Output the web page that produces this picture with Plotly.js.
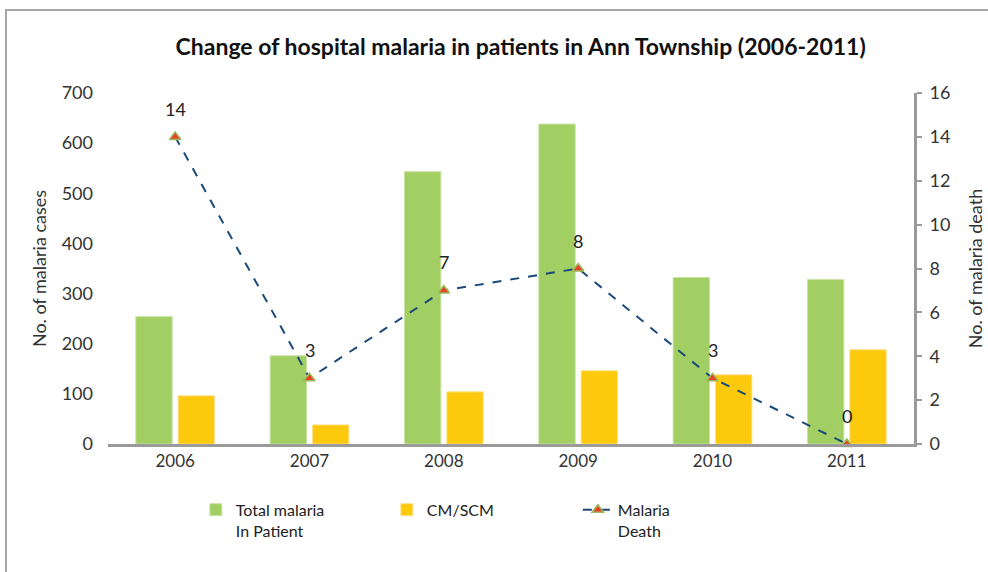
<!DOCTYPE html>
<html>
<head>
<meta charset="utf-8">
<script src="https://cdn.plot.ly/plotly-3.0.1.min.js"></script>
<style>
  html, body { margin: 0; padding: 0; background: #fff; overflow: hidden; }
  #frame { position: absolute; left: 5px; top: 9px; width: 1100px; height: 700px; border: 2px solid #a6a6a6; box-sizing: border-box; }
  #chart { position: absolute; left: 0; top: 0; width: 988px; height: 572px; }
</style>
</head>
<body>
<div id="frame"></div>
<div id="chart"></div>
<script>
const years = ["2006", "2007", "2008", "2009", "2010", "2011"];
const totalInPatient = [254, 176, 543, 638, 332, 328];
const cmScm = [96, 38, 104, 146, 138, 188];
const deaths = [14, 3, 7, 8, 3, 0];
const deathLabels = ["14", "3", "7", "8", "3", "0"];

const FONT = "Lato, 'Open Sans', sans-serif";

const traces = [
  {
    type: "bar", name: "Total malaria<br>In Patient", x: years, y: totalInPatient,
    marker: { color: "#a2cf63", line: { color: "#c9e3a5", width: 1 } }, yaxis: "y"
  },
  {
    type: "bar", name: "CM/SCM", x: years, y: cmScm,
    marker: { color: "#fdc90c", line: { color: "#fde08a", width: 1 } }, yaxis: "y"
  },
  {
    type: "scatter", mode: "lines+markers", name: "Malaria<br>Death", x: years, y: deaths,
    yaxis: "y2",
    line: { color: "#1a4a7a", width: 2, dash: "dash" },
    marker: { symbol: "triangle-up", size: 10, color: "#e8412c", line: { color: "#9bbb59", width: 1.5 } },
    cliponaxis: false
  }
];

const annotations = years.map((yr, i) => ({
  x: i, y: deaths[i], xref: "x", yref: "y2", text: deathLabels[i],
  showarrow: false, yshift: 28, font: { family: FONT, size: 18, color: "#222" }
}));

const layout = {
  width: 988, height: 572,
  margin: { l: 108, r: 74, t: 93, b: 128 },
  paper_bgcolor: "rgba(0,0,0,0)", plot_bgcolor: "rgba(0,0,0,0)",
  font: { family: FONT, size: 17, color: "#333" },
  title: {
    text: "<b>Change of hospital malaria in patients in Ann Township (2006-2011)</b>",
    font: { family: FONT, size: 23, color: "#111" },
    x: 0.527, xanchor: "center", y: 0.918, yanchor: "middle"
  },
  annotations: annotations,
  barmode: "group", bargap: 0.37, bargroupgap: 0.14,
  showlegend: true,
  legend: {
    orientation: "h", x: 0.109, xanchor: "left", y: -0.139, yanchor: "top",
    font: { family: FONT, size: 16, color: "#222" },
    entrywidth: 146, entrywidthmode: "pixels", traceorder: "normal", valign: "top"
  },
  xaxis: {
    type: "category", categoryorder: "array", categoryarray: years,
    showline: true, linecolor: "#9a9a9a", linewidth: 3,
    ticks: "", showgrid: false, zeroline: false,
    tickfont: { family: FONT, size: 17, color: "#333" }
  },
  yaxis: {
    range: [0, 700], dtick: 100, showgrid: false, zeroline: false, showline: false, ticks: "",
    ticklabelstandoff: 14,
    title: { text: "No. of malaria cases", font: { family: FONT, size: 18, color: "#333" }, standoff: 10 },
    tickfont: { family: FONT, size: 18, color: "#333" }
  },
  yaxis2: {
    range: [0, 16], dtick: 2, overlaying: "y", side: "right", showgrid: false, zeroline: false,
    showline: true, linecolor: "#9a9a9a", linewidth: 3, ticks: "outside", ticklen: 5, tickcolor: "#9a9a9a", tickwidth: 2,
    ticklabelstandoff: 4,
    title: { text: "No. of malaria death", font: { family: FONT, size: 18, color: "#333" }, standoff: 20 },
    tickfont: { family: FONT, size: 18, color: "#333" }
  }
};

Plotly.newPlot("chart", traces, layout, { displayModeBar: false, staticPlot: true });
</script>
</body>
</html>
